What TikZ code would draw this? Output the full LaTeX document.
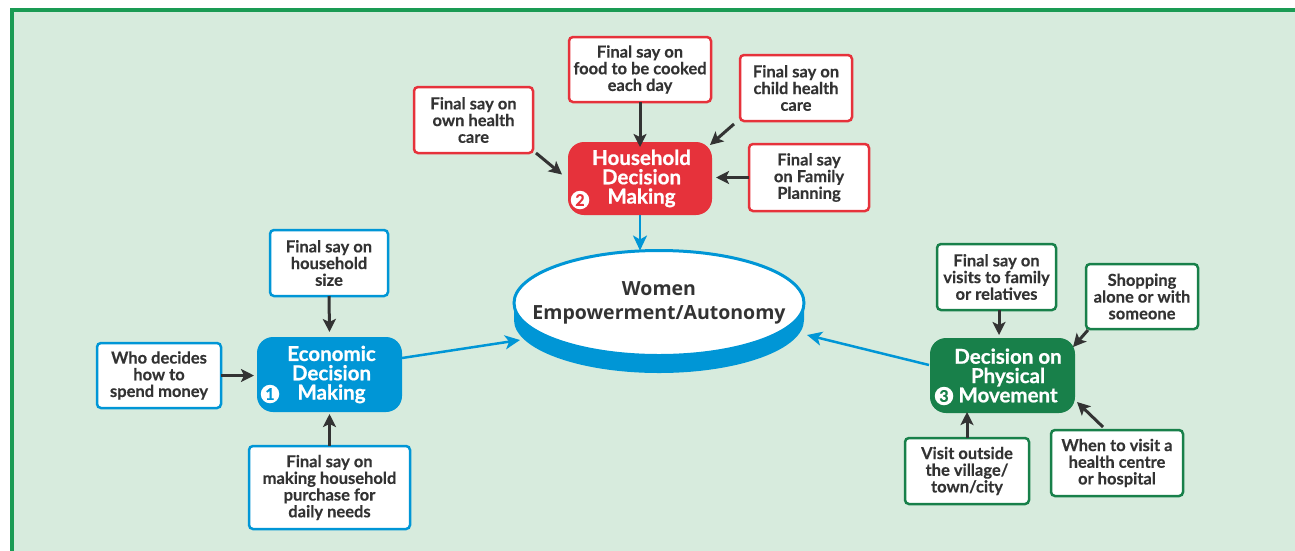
\documentclass[tikz,border=0pt]{standalone}
\usepackage{fontspec}
\setmainfont{Lato}[BoldFeatures={FakeBold=0.3}]
\newfontfamily\hubfont{Lato}[BoldFeatures={FakeBold=0.8}]
\newfontfamily\ellfont{Open Sans}
\usetikzlibrary{arrows.meta,shapes.geometric}
\definecolor{bgc}{HTML}{D7EBDD}
\definecolor{framec}{HTML}{1A9B54}
\definecolor{redc}{HTML}{E6323B}
\definecolor{bluec}{HTML}{0096D6}
\definecolor{greenc}{HTML}{18804A}
\definecolor{txtc}{HTML}{333333}
\tikzset{
  sbox/.style={draw=#1, line width=2.5pt, fill=white, rounded corners=4pt, align=center,
    text=txtc, inner sep=0pt, outer sep=0pt, font=\bfseries\fontsize{16.5}{16.7}\selectfont},
  sz/.style 2 args={minimum width=#1, minimum height=#2},
  hub/.style={fill=#1, rounded corners=16pt, text=white, align=center, inner sep=0pt, outer sep=0pt,
    font=\hubfont\bfseries\fontsize{20.5}{19.3}\selectfont},
  num/.style={circle, fill=white, inner sep=0pt, minimum size=18.5pt, text=#1,
    font=\hubfont\bfseries\fontsize{16}{16}\selectfont},
  darr/.style={draw=txtc, line width=3pt, -{Stealth[length=13pt,width=13pt,inset=3pt]}},
  barr/.style={draw=bluec, line width=2.5pt, -{Stealth[length=15pt,width=14pt,inset=4pt]}},
}
\begin{document}
\begin{tikzpicture}[x=1pt,y=-1pt]
\useasboundingbox (0,0) rectangle (1295,550);
\clip (0,0) rectangle (1295,550);
\fill[white] (0,0) rectangle (1295,550);
\fill[bgc] (12,10) rectangle (1300,560);
\draw[framec, line width=4pt] (12,560) -- (12,10) -- (1300,10);

% central ellipse with blue band
\fill[bluec] (514,303) -- (514,320) arc[start angle=180, end angle=0, x radius=145, y radius=53] -- (804,303) -- cycle;
\node[ellipse, draw=bluec, line width=3pt, fill=white, minimum width=290pt, minimum height=105pt,
  inner sep=0pt, outer sep=0pt] (ell) at (659,303) {};
\node[text=txtc, align=center, inner sep=0pt, font=\ellfont\bfseries\fontsize{19.5}{24}\selectfont]
  (elltext) at (659,302.5) {Women\\Empowerment/Autonomy};

% household (red)
\node[hub=redc, sz={144}{73}] (hh) at (640,178.5) {\hspace*{3pt}Household\\\hspace*{3pt}Decision\\\hspace*{3pt}Making};
\node[num=redc] (n2) at (580,200) {2};
\node[sbox=redc, sz={142}{65}] (food) at (640,69.5) {Final say on\\food to be cooked\\each day};
\node[sbox=redc, sz={119}{66}] (own) at (473.5,120) {Final say on\\own health\\care};
\node[sbox=redc, sz={112}{66}] (child) at (796,88) {Final say on\\child health\\care};
\node[sbox=redc, sz={120}{67}] (fam) at (809,177.5) {Final say\\on Family\\Planning};

% economic (blue)
\node[hub=bluec, sz={145}{75}] (eco) at (329.5,374.5) {\hspace*{4pt}Economic\\\hspace*{4pt}Decision\\\hspace*{4pt}Making};
\node[num=bluec] (n1) at (270,394) {1};
\node[sbox=bluec, sz={118}{66}] (size) at (329,263) {Final say on\\household\\size};
\node[sbox=bluec, sz={124}{65}] (who) at (159,375.5) {Who decides\\how to\\spend money};
\node[sbox=bluec, sz={161}{83}] (purch) at (329.5,487.5) {Final say on\\making household\\purchase for\\daily needs};

% physical movement (green)
\node[hub=greenc, sz={145}{75}] (phys) at (1002.5,375.5) {\hspace*{11pt}Decision on\\\hspace*{11pt}Physical\\\hspace*{11pt}Movement};
\node[num=greenc] (n3) at (944,396) {3};
\node[sbox=greenc, sz={119}{66}] (visits) at (996.5,277) {Final say on\\visits to family\\or relatives};
\node[sbox=greenc, sz={112}{65}] (shop) at (1142,296.5) {Shopping\\alone or with\\someone};
\node[sbox=greenc, sz={124}{66}] (outside) at (967,471) {Visit outside\\the village/\\town/city};
\node[sbox=greenc, sz={132}{66}] (when) at (1117,463) {When to visit a\\health centre\\or hospital};

% dark arrows
\draw[darr] (food.south) -- ([yshift=-5pt]hh.north);
\draw[darr] ([shift={(3,0)}]own.south east) -- ([shift={(-6,-4)}]hh.west);
\draw[darr] ([shift={(-6,3)}]child.south west) -- ([shift={(-2,3)}]hh.north east);
\draw[darr] (fam.west) -- ([shift={(4,-1)}]hh.east);
\draw[darr] (size.south) -- ([shift={(0,-5)}]eco.north);
\draw[darr] (who.east) -- ([shift={(-3,1)}]eco.west);
\draw[darr] (purch.north) -- ([shift={(0,2)}]eco.south);
\draw[darr] ([shift={(2.5,0)}]visits.south) -- ([shift={(-3.5,-3)}]phys.north);
\draw[darr] ([shift={(2,1)}]shop.south west) -- ([shift={(-2,9)}]phys.north east);
\draw[darr] (outside.north) -- ([yshift=1pt]outside.north |- phys.south);
\draw[darr] ([shift={(-14,-3)}]when.north) -- ([shift={(2,-11)}]phys.south east);

% blue arrows
\draw[barr] (hh.south) -- (hh.south |- ell.north);
\draw[barr] ([shift={(0,-16.5)}]eco.east) -- ([shift={(-139,37)}]ell.center);
\draw[barr] ([shift={(-1,-10.5)}]phys.west) -- ([shift={(148,32)}]ell.center);
\end{tikzpicture}
\end{document}
